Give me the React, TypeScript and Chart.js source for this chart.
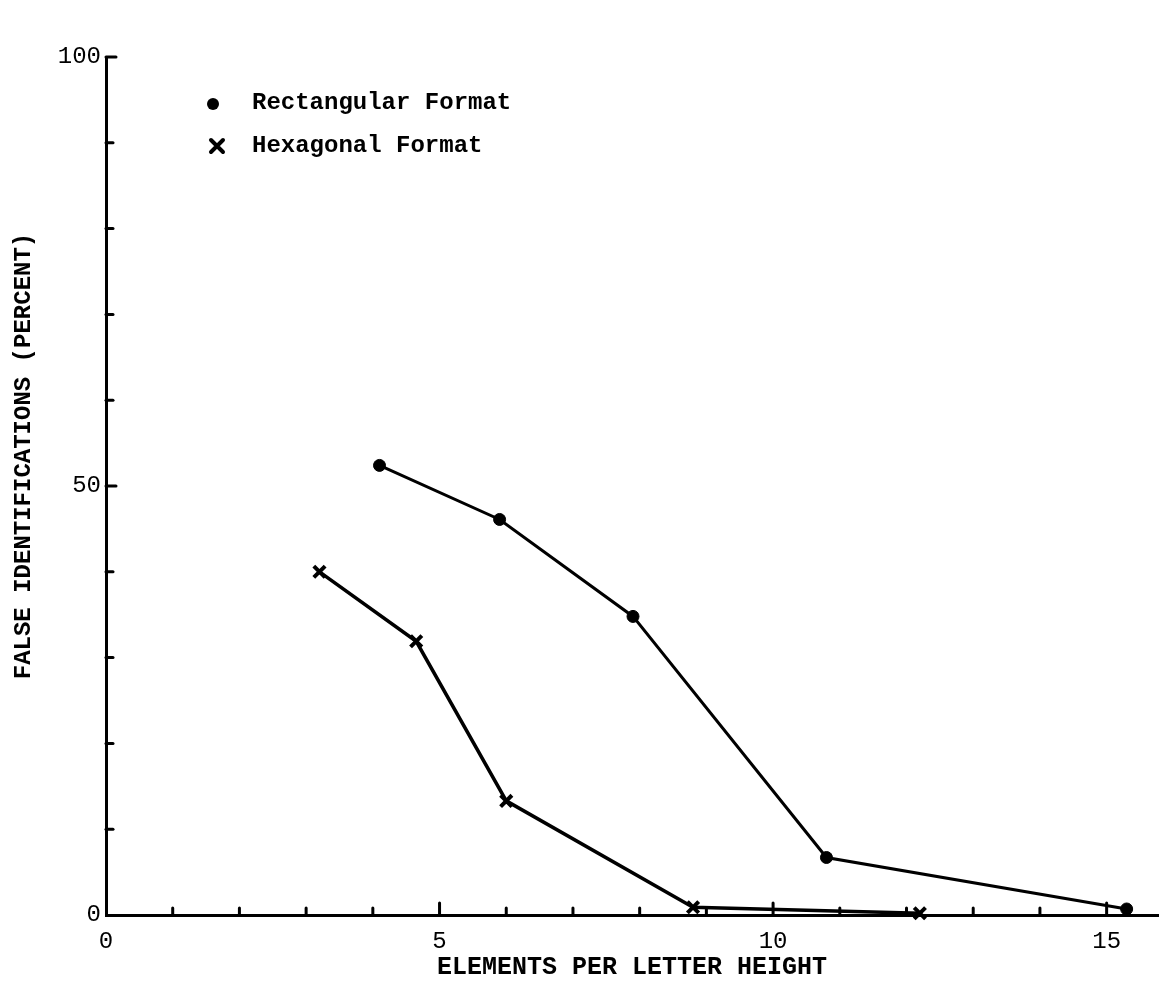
import React, { useEffect, useRef } from 'react';
import { Chart, registerables } from 'chart.js';

Chart.register(...registerables);

// ---- data ----
const rectX = [4.1, 5.9, 7.9, 10.8, 15.3];
const rectY = [52.4, 46.1, 34.8, 6.7, 0.7];
const hexX = [3.2, 4.65, 6.0, 8.8, 12.2];
const hexY = [40.0, 31.9, 13.3, 0.9, 0.2];
const seriesNames = ['Rectangular Format', 'Hexagonal Format'];
const xLabeledTicks = [0, 5, 10, 15];
const yLabeledTicks = [0, 50, 100];
const xTitle = 'ELEMENTS PER LETTER HEIGHT';
const yTitle = 'FALSE IDENTIFICATIONS (PERCENT)';

const FONT = '"Liberation Mono", "DejaVu Sans Mono", monospace';

const decorPlugin = {
  id: 'decor',
  afterDraw(chart: any) {
    const ctx = chart.ctx as CanvasRenderingContext2D;
    const xs = chart.scales.x;
    const ys = chart.scales.y;
    const { left, bottom } = chart.chartArea;
    ctx.save();
    ctx.strokeStyle = '#000';
    ctx.fillStyle = '#000';
    ctx.lineWidth = 3;
    ctx.lineCap = 'round';
    // inward minor/major tick marks
    xs.ticks.forEach((t: any) => {
      if (!Number.isInteger(t.value) || t.value === 0) return;
      const px = xs.getPixelForValue(t.value);
      const len = t.value % 5 === 0 ? 12 : 7;
      ctx.beginPath();
      ctx.moveTo(px, bottom);
      ctx.lineTo(px, bottom - len);
      ctx.stroke();
    });
    ys.ticks.forEach((t: any) => {
      if (t.value === 0) return;
      const py = ys.getPixelForValue(t.value);
      const len = t.value % 50 === 0 ? 10 : 7;
      ctx.beginPath();
      ctx.moveTo(left, py);
      ctx.lineTo(left + len, py);
      ctx.stroke();
    });
    // legend
    ctx.font = `bold 24px ${FONT}`;
    ctx.textAlign = 'left';
    ctx.textBaseline = 'middle';
    ctx.beginPath();
    ctx.arc(213, 104, 6, 0, Math.PI * 2);
    ctx.fill();
    ctx.fillText(seriesNames[0], 252, 103);
    ctx.lineWidth = 4;
    ctx.beginPath();
    ctx.moveTo(211, 140);
    ctx.lineTo(223, 152);
    ctx.moveTo(223, 140);
    ctx.lineTo(211, 152);
    ctx.stroke();
    ctx.fillText(seriesNames[1], 252, 146);
    // y title
    ctx.translate(24, 456);
    ctx.rotate(-Math.PI / 2);
    ctx.textAlign = 'center';
    ctx.font = `bold 24px ${FONT}`;
    ctx.fillText(yTitle, 0, 0);
    ctx.restore();
  },
};

export default function App() {
  const ref = useRef<HTMLCanvasElement | null>(null);
  useEffect(() => {
    if (!ref.current) return;
    const chart = new Chart(ref.current, {
      type: 'scatter',
      data: {
        datasets: [
          {
            label: seriesNames[0],
            data: rectX.map((x, i) => ({ x, y: rectY[i] })),
            showLine: true,
            borderColor: '#000',
            backgroundColor: '#000',
            borderWidth: 3,
            pointStyle: 'circle',
            pointRadius: 6,
            pointBorderWidth: 1,
            clip: false,
          } as any,
          {
            label: seriesNames[1],
            data: hexX.map((x, i) => ({ x, y: hexY[i] })),
            showLine: true,
            borderColor: '#000',
            backgroundColor: '#000',
            borderWidth: 3.5,
            pointStyle: 'crossRot',
            pointRadius: 8,
            pointBorderWidth: 4,
            clip: false,
          } as any,
        ],
      },
      options: {
        animation: false,
        responsive: false,
        layout: { padding: { left: 0, top: 57, right: 12, bottom: 0 } },
        plugins: { legend: { display: false }, tooltip: { enabled: false } },
        scales: {
          x: {
            type: 'linear',
            min: 0,
            max: 15.77,
            afterFit: (s: any) => { s.height = 82; },
            grid: { display: true, drawOnChartArea: false, drawTicks: false },
            border: { display: true, color: '#000', width: 3 },
            ticks: {
              stepSize: 1,
              includeBounds: false,
              autoSkip: false,
              maxRotation: 0,
              padding: 12,
              color: '#000',
              font: { family: FONT, size: 24 },
              callback: (v: any) => (xLabeledTicks.includes(Number(v)) ? String(v) : ''),
            },
            title: {
              display: true,
              text: xTitle,
              color: '#000',
              font: { family: FONT, size: 25, weight: 'bold' },
              padding: { top: 0, bottom: 14 },
            },
          },
          y: {
            type: 'linear',
            min: 0,
            max: 100,
            afterFit: (s: any) => { s.width = 106; },
            grid: { display: true, drawOnChartArea: false, drawTicks: false },
            border: { display: true, color: '#000', width: 3 },
            ticks: {
              stepSize: 10,
              autoSkip: false,
              padding: 5,
              color: '#000',
              font: { family: FONT, size: 24 },
              callback: (v: any) => (yLabeledTicks.includes(Number(v)) ? String(v) : ''),
            },
          },
        },
      } as any,
      plugins: [decorPlugin],
    });
    return () => chart.destroy();
  }, []);
  return (
    <div style={{ position: 'absolute', left: 0, top: 0, width: 1170, height: 997, background: '#fff' }}>
      <canvas ref={ref} width={1170} height={997} style={{ display: 'block' }} />
    </div>
  );
}
